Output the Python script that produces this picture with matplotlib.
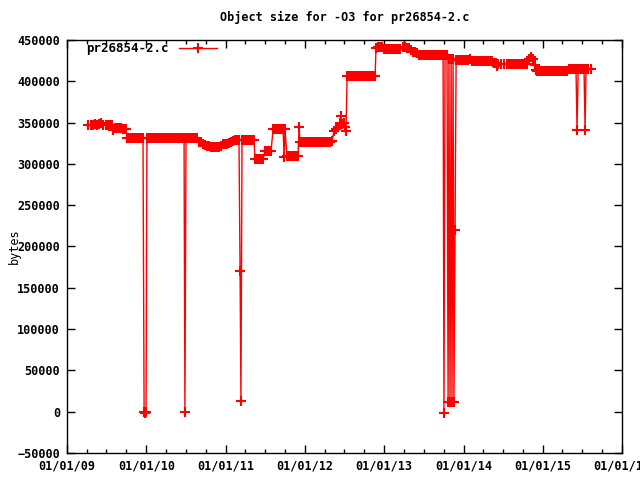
import matplotlib
matplotlib.use("Agg")
import matplotlib.pyplot as plt
import matplotlib.dates as mdates
import pandas as pd

start = "2009-01-01"

# days since 2009-01-01
days = [97, 111, 120, 129, 138, 147, 157, 166, 180, 189, 198, 207, 212, 221, 230, 240, 249, 258, 267, 272,
        276, 286, 295, 304, 313, 322, 332, 341, 350, 355, 359, 364, 368, 378, 387, 396, 405, 415, 424, 433,
        442, 451, 461, 470, 479, 488, 497, 507, 516, 525, 534, 539, 543, 548, 553, 562, 571, 580, 590, 599,
        608, 617, 626, 636, 645, 654, 663, 672, 682, 691, 700, 709, 719, 728, 737, 746, 755, 765, 774, 783,
        792, 797, 801, 806, 815, 824, 834, 843, 852, 861, 866, 875, 884, 894, 903, 912, 921, 930, 940, 949,
        958, 967, 976, 986, 995, 1000, 1004, 1013, 1018, 1027, 1036, 1046, 1055, 1064, 1069, 1073, 1082, 1092, 1101, 1110,
        1119, 1128, 1138, 1147, 1156, 1165, 1175, 1184, 1193, 1202, 1211, 1221, 1230, 1239, 1248, 1257, 1262, 1267, 1276, 1280,
        1285, 1290, 1299, 1308, 1317, 1327, 1336, 1345, 1354, 1363, 1373, 1382, 1391, 1400, 1409, 1419, 1423, 1433, 1442, 1451,
        1460, 1469, 1479, 1488, 1497, 1506, 1515, 1525, 1534, 1548, 1557, 1566, 1575, 1584, 1594, 1603, 1612, 1621, 1631, 1640,
        1649, 1658, 1667, 1677, 1686, 1695, 1704, 1713, 1723, 1732, 1736, 1741, 1750, 1755, 1759, 1764, 1769, 1773, 1778, 1782,
        1787, 1792, 1801, 1810, 1820, 1829, 1838, 1847, 1856, 1866, 1875, 1884, 1893, 1902, 1912, 1921, 1930, 1939, 1948, 1958,
        1967, 1976, 1981, 1985, 1999, 2013, 2026, 2036, 2045, 2054, 2063, 2072, 2082, 2091, 2100, 2109, 2119, 2128, 2137, 2146,
        2156, 2160, 2165, 2174, 2183, 2192, 2201, 2211, 2220, 2229, 2238, 2248, 2257, 2266, 2275, 2284, 2294, 2303, 2312, 2321,
        2331, 2340, 2344, 2349, 2354, 2363, 2372, 2381, 2386, 2390, 2400, 2414]

sizes = [347000, 347000, 347000, 348000, 347000, 348000, 350000, 347000, 347000, 347000, 347000, 347000, 341000, 343000, 343000, 343000, 343000, 342000, 342000, 342000,
         331000, 331000, 331000, 331000, 331000, 331000, 331000, 331000, 331000, 0, -1000, 0, 331000, 331000, 331000, 331000, 331000, 331000, 331000, 331000,
         331000, 331000, 331000, 331000, 331000, 331000, 331000, 331000, 331000, 331000, 331000, 331000, 0, 331000, 331000, 331000, 331000, 331000, 331000, 331000,
         327000, 326000, 324000, 323000, 322000, 322000, 321000, 321000, 321000, 321000, 321000, 322000, 324000, 324000, 324000, 325000, 326000, 328000, 329000, 329000,
         329000, 170000, 13000, 329000, 329000, 329000, 329000, 329000, 329000, 329000, 306000, 306000, 306000, 306000, 306000, 316000, 316000, 316000, 316000, 342000,
         342000, 342000, 342000, 342000, 342000, 308000, 342000, 309000, 309000, 309000, 309000, 309000, 309000, 309000, 345000, 327000, 327000, 327000, 327000, 327000,
         327000, 327000, 327000, 327000, 327000, 327000, 327000, 327000, 327000, 327000, 327000, 328000, 340000, 342000, 345000, 350000, 358000, 348000, 350000, 345000,
         340000, 407000, 407000, 407000, 407000, 407000, 407000, 407000, 407000, 407000, 407000, 407000, 407000, 407000, 407000, 407000, 440000, 441000, 441000, 441000,
         439000, 439000, 439000, 439000, 439000, 439000, 439000, 439000, 439000, 441000, 441000, 440000, 440000, 438000, 436000, 435000, 434000, 432000, 432000, 432000,
         432000, 432000, 432000, 432000, 432000, 432000, 432000, 432000, 432000, 432000, -1000, 432000, 432000, 12000, 427000, 12000, 427000, 12000, 427000, 12000,
         220000, 426000, 426000, 426000, 426000, 426000, 426000, 426000, 427000, 425000, 425000, 425000, 425000, 425000, 425000, 425000, 425000, 425000, 425000, 425000,
         422000, 422000, 418000, 421000, 421000, 421000, 421000, 421000, 421000, 421000, 421000, 421000, 421000, 421000, 421000, 421000, 421000, 427000, 429000, 427000,
         420000, 414000, 413000, 413000, 413000, 413000, 413000, 413000, 413000, 413000, 413000, 413000, 413000, 413000, 413000, 413000, 413000, 413000, 415000, 415000,
         415000, 415000, 415000, 341000, 415000, 415000, 415000, 415000, 341000, 415000, 415000, 415000]

dates = pd.Timestamp(start) + pd.to_timedelta(days, unit="D")

plt.rcParams["font.family"] = ["DejaVu Sans Mono"]
plt.rcParams["font.weight"] = "bold"
plt.rcParams["font.size"] = 8.5

fig = plt.figure(figsize=(6.4, 4.8), dpi=100)
ax = fig.add_axes([0.1047, 0.0563, 0.8672, 0.8604])

ax.plot(dates, sizes, color="red", lw=1, marker="+", ms=7.5, mew=1.5,
        label="pr26854-2.c")

ax.set_xlim(pd.Timestamp("2009-01-01"), pd.Timestamp("2016-01-01"))
ax.set_ylim(-50000, 450000)
ax.set_yticks(range(-50000, 450001, 50000))
ax.xaxis.set_major_locator(mdates.YearLocator())
ax.xaxis.set_minor_locator(mdates.MonthLocator(bymonth=[4, 7, 10]))
ax.xaxis.set_major_formatter(mdates.DateFormatter("%m/%d/%y"))

ax.tick_params(which="both", direction="in", top=True, right=True, width=1)
ax.tick_params(which="major", length=6, pad=5)
ax.tick_params(which="minor", length=3)
for s in ax.spines.values():
    s.set_linewidth(1)

ax.set_title("Object size for -O3 for pr26854-2.c", fontsize=8.5,
             fontweight="bold", pad=14)
ax.set_ylabel("bytes", va="center")
ax.yaxis.set_label_coords(-0.095, 0.5)
ax.legend(loc="upper left", bbox_to_anchor=(0.015, 1.022), markerfirst=False,
          frameon=False, handlelength=3, fontsize=9)

fig.savefig("out.png", dpi=100)
